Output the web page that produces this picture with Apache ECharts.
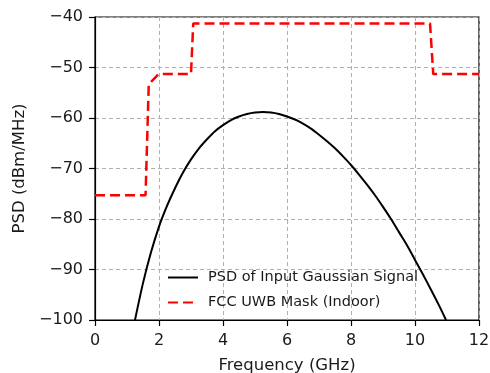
<!DOCTYPE html>
<html>
<head>
<meta charset="utf-8">
<script src="https://cdn.jsdelivr.net/npm/echarts@6/dist/echarts.min.js"></script>
<style>
html,body{margin:0;padding:0;background:#fff;}
#c{width:490px;height:373px;}
</style>
</head>
<body>
<div id="c"></div>
<script>
// Frequency (GHz) / PSD (dBm/MHz) of the Gaussian signal
const psdFreq = [1.25, 1.5, 1.75, 2.0, 2.25, 2.5, 2.75, 3.0, 3.25, 3.5, 3.75, 4.0, 4.25, 4.5, 4.75, 5.0, 5.25, 5.5, 5.75, 6.0, 6.25, 6.5, 6.75, 7.0, 7.25, 7.5, 7.75, 8.0, 8.25, 8.5, 8.75, 9.0, 9.25, 9.5, 9.75, 10.0, 10.25, 10.5, 10.75, 10.97];
const psdDb   = [-100, -92.7, -86.6, -81.5, -77.4, -73.9, -70.8, -68.2, -66.0, -64.2, -62.6, -61.4, -60.4, -59.7, -59.2, -58.9, -58.8, -58.9, -59.2, -59.7, -60.3, -61.1, -62.1, -63.3, -64.6, -66.0, -67.6, -69.3, -71.2, -73.2, -75.3, -77.6, -80.0, -82.6, -85.2, -88.1, -91.0, -94.0, -97.1, -100];

// FCC UWB indoor mask
const maskFreq = [0, 1.58, 1.68, 1.99, 3.00, 3.07, 10.47, 10.57, 12];
const maskDb   = [-75.3, -75.3, -53.3, -51.3, -51.3, -41.3, -41.3, -51.3, -51.3];

const xTicks = [0, 2, 4, 6, 8, 10, 12];
const yTicks = [-100, -90, -80, -70, -60, -50, -40];

const seriesNames = ['PSD of Input Gaussian Signal', 'FCC UWB Mask (Indoor)'];

const fmt = v => String(v).replace('-', '\u2212');
const font = 'DejaVu Sans';

const chart = echarts.init(document.getElementById('c'), null, {renderer: 'canvas'});
chart.setOption({
  animation: false,
  backgroundColor: '#fff',
  grid: {left: 95, right: 11, top: 17, bottom: 53, containLabel: false, outerBoundsMode: 'none',
         show: true, borderColor: '#000', borderWidth: 1.2, backgroundColor: 'transparent'},
  legend: {
    orient: 'vertical',
    left: 167, top: 270, padding: 0,
    itemWidth: 30, itemHeight: 14, itemGap: 10,
    backgroundColor: 'transparent', borderWidth: 0,
    itemStyle: {color: 'rgba(0,0,0,0)', borderWidth: 0, opacity: 0},
    textStyle: {fontFamily: font, fontSize: 14.5, color: '#1a1a1a', padding: [0, 0, 0, 5]},
    data: seriesNames
  },
  xAxis: {
    type: 'value', min: xTicks[0], max: xTicks[xTicks.length - 1], interval: 2,
    name: 'Frequency (GHz)', nameLocation: 'middle', nameGap: 37,
    nameTextStyle: {fontFamily: font, fontSize: 16.5, color: '#1a1a1a'},
    axisLine: {show: true, lineStyle: {color: '#000', width: 1.2}},
    axisTick: {show: true, length: 6, lineStyle: {color: '#000', width: 1.2}},
    axisLabel: {fontFamily: font, fontSize: 16, color: '#1a1a1a', margin: 13, formatter: fmt},
    splitLine: {show: true, lineStyle: {color: '#b0b0b0', width: 1, type: [4, 3]}}
  },
  yAxis: {
    type: 'value', min: yTicks[0], max: yTicks[yTicks.length - 1], interval: 10,
    name: 'PSD (dBm/MHz)', nameLocation: 'middle', nameGap: 64, nameRotate: 90,
    nameTextStyle: {fontFamily: font, fontSize: 16.5, color: '#1a1a1a'},
    axisLine: {show: true, lineStyle: {color: '#000', width: 1.2}},
    axisTick: {show: true, length: 6, lineStyle: {color: '#000', width: 1.2}},
    axisLabel: {fontFamily: font, fontSize: 16, color: '#1a1a1a', margin: 12, formatter: fmt},
    splitLine: {show: true, lineStyle: {color: '#b0b0b0', width: 1, type: [4, 3]}}
  },
  series: [
    {
      name: seriesNames[0], type: 'line', symbol: 'none', smooth: 0.3,
      data: psdFreq.map((f, i) => [f, psdDb[i]]),
      lineStyle: {color: '#000', width: 2}, itemStyle: {color: '#000'}, z: 3
    },
    {
      name: seriesNames[1], type: 'line', symbol: 'none',
      data: maskFreq.map((f, i) => [f, maskDb[i]]),
      lineStyle: {color: '#ff0000', width: 2.5, type: [10, 5]}, itemStyle: {color: '#ff0000'}, z: 4
    }
  ]
});
</script>
</body>
</html>
